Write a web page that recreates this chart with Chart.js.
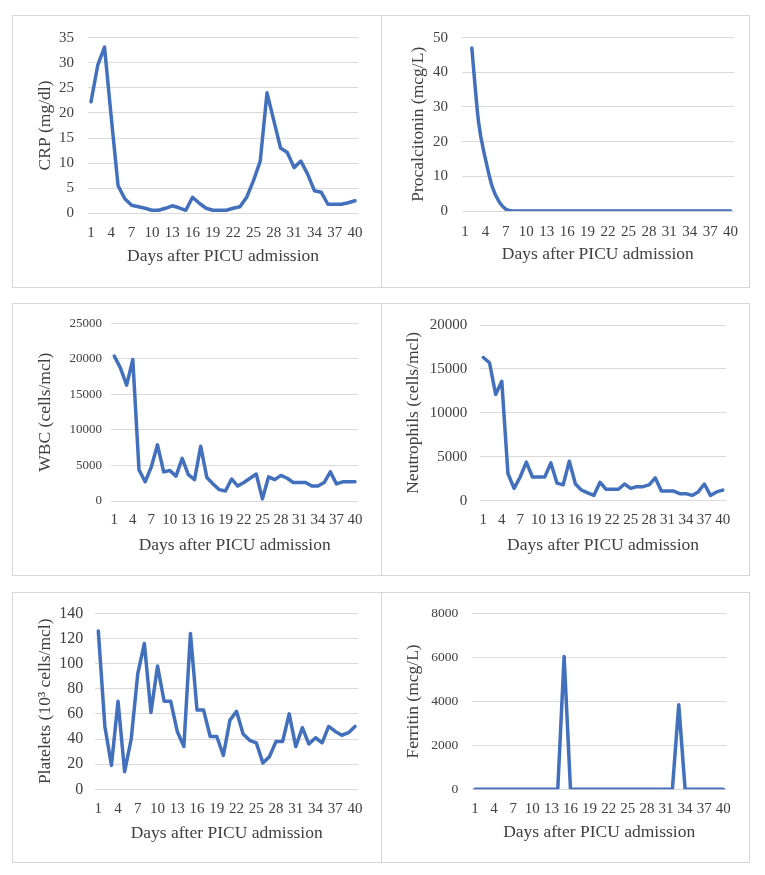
<!DOCTYPE html>
<html>
<head>
<meta charset="utf-8">
<script src="https://cdn.jsdelivr.net/npm/chart.js@4.4.1/dist/chart.umd.min.js"></script>
<style>
  html, body { margin: 0; padding: 0; background: #fff; }
  body { width: 765px; height: 875px; position: relative; overflow: hidden; }
  .frame { position: absolute; box-sizing: border-box; border: 1px solid #d6d6d6; }
  canvas { position: absolute; }
</style>
</head>
<body>
<script>
// days after PICU admission
const days = ["1","2","3","4","5","6","7","8","9","10","11","12","13","14","15","16","17","18","19","20",
  "21","22","23","24","25","26","27","28","29","30","31","32","33","34","35","36","37","38","39","40"];

const crp = [22.2, 29.5, 33.1, 19, 5.5, 2.9, 1.6, 1.3, 1.0, 0.6, 0.6, 1.0, 1.5, 1.1, 0.6, 3.2, 2.0, 1.0, 0.6, 0.6,
  0.6, 1.0, 1.3, 3.2, 6.5, 10.4, 24.0, 18.5, 13.0, 12.1, 9.1, 10.4, 7.8, 4.5, 4.2, 1.8, 1.8, 1.8, 2.1, 2.5];

// no value on day 1
const procalcitonin = [null, 47, 25.5, 15, 7, 2.7, 0.5, 0, 0, 0, 0, 0, 0, 0, 0, 0, 0, 0, 0, 0,
  0, 0, 0, 0, 0, 0, 0, 0, 0, 0, 0, 0, 0, 0, 0, 0, 0, 0, 0, 0];

const wbc = [20400, 18700, 16300, 19900, 4400, 2700, 4800, 7900, 4100, 4300, 3500, 6000, 3700, 3000, 7700, 3300, 2400, 1600, 1400, 3100,
  2100, 2600, 3200, 3800, 300, 3400, 3000, 3600, 3200, 2600, 2600, 2600, 2100, 2100, 2600, 4100, 2400, 2700, 2700, 2700];

const neutrophils = [16300, 15700, 12100, 13600, 3100, 1400, 2700, 4400, 2700, 2700, 2700, 4300, 2000, 1800, 4500, 1900, 1200, 900, 600, 2100,
  1300, 1300, 1300, 1900, 1400, 1600, 1600, 1800, 2600, 1100, 1100, 1100, 800, 800, 600, 1000, 1900, 600, 1000, 1200];

const platelets = [126, 50, 19, 70, 14, 40, 92, 116, 61, 98, 70, 70, 46, 34, 124, 63, 63, 42, 42, 27,
  55, 62, 44, 39, 37, 21, 26, 38, 38, 60, 34, 49, 36, 41, 37, 50, 46, 43, 45, 50];

const ferritin = [0, 0, 0, 0, 0, 0, 0, 0, 0, 0, 0, 0, 0, 0, 6050, 0, 0, 0, 0, 0,
  0, 0, 0, 0, 0, 0, 0, 0, 0, 0, 0, 0, 3850, 0, 0, 0, 0, 0, 0, 0];

// y axis ranges [max, step]
const crpAxis = [35, 5];
const procalcitoninAxis = [50, 10];
const wbcAxis = [25000, 5000];
const neutrophilsAxis = [20000, 5000];
const plateletsAxis = [140, 20];
const ferritinAxis = [8000, 2000];

const xTitle = "Days after PICU admission";

const LINE = "#4270bd";
const GRID = "#d9d9d9";
const TEXT = "#404040";
const FONT = '"Liberation Serif", "Times New Roman", serif';
const TICK_SIZE = 15;
const TITLE_SIZE = 17.5;

// panel frames and plot areas (page pixels)
const panels = [
  { values: crp, axis: crpAxis, title: "CRP (mg/dl)",
    x: 12, y: 15, w: 370, h: 273,
    plotLeft: 87.6, plotRight: 358.4, plotTop: 33.3, plotBottom: 213.3,
    yTickRight: 74, yTitleX: 45, xTickY: 233, xTitleY: 256 },
  { values: procalcitonin, axis: procalcitoninAxis, title: "Procalcitonin (mcg/L)", smooth: true,
    x: 381, y: 15, w: 369, h: 273,
    plotLeft: 461.6, plotRight: 735, plotTop: 22.3, plotBottom: 211,
    yTickRight: 448, yTitleX: 418, xTickY: 231.7, xTitleY: 254.5 },
  { values: wbc, axis: wbcAxis, title: "WBC (cells/mcl)", ySize: 13,
    x: 12, y: 303, w: 370, h: 273,
    plotLeft: 111.2, plotRight: 358.1, plotTop: 323.3, plotBottom: 501,
    yTickRight: 102, yTitleX: 45, xTickY: 520, xTitleY: 545 },
  { values: neutrophils, axis: neutrophilsAxis, title: "Neutrophils (cells/mcl)",
    x: 381, y: 303, w: 369, h: 273,
    plotLeft: 480.3, plotRight: 725.8, plotTop: 323.3, plotBottom: 500.7,
    yTickRight: 467.3, yTitleX: 413.3, xTickY: 520, xTitleY: 545.7 },
  { values: platelets, axis: plateletsAxis, title: "Platelets (10\u00b3 cells/mcl)", ySize: 16,
    x: 12, y: 592, w: 370, h: 271,
    plotLeft: 95, plotRight: 358.3, plotTop: 610.7, plotBottom: 789.3,
    yTickRight: 83.3, yTitleX: 45, xTickY: 809.3, xTitleY: 833.3 },
  { values: ferritin, axis: ferritinAxis, title: "Ferritin (mcg/L)", ySize: 13.5,
    x: 381, y: 592, w: 369, h: 271,
    plotLeft: 471.8, plotRight: 726.5, plotTop: 611.7, plotBottom: 789.3,
    yTickRight: 458.3, yTitleX: 413.3, xTickY: 809.3, xTitleY: 832.3 }
];

function makePanel(p) {
  const frame = document.createElement("div");
  frame.className = "frame";
  Object.assign(frame.style, { left: p.x + "px", top: p.y + "px", width: p.w + "px", height: p.h + "px" });
  document.body.appendChild(frame);

  const c = document.createElement("canvas");
  c.width = p.w; c.height = p.h;
  Object.assign(c.style, { left: p.x + "px", top: p.y + "px", width: p.w + "px", height: p.h + "px" });
  document.body.appendChild(c);

  const tickLH = TICK_SIZE * 1.2;
  const titleLH = TITLE_SIZE * 1.2;

  new Chart(c, {
    type: "line",
    data: {
      labels: days,
      datasets: [{
        data: p.values,
        borderColor: LINE,
        borderWidth: 3.5,
        pointRadius: 0,
        tension: p.smooth ? 0.4 : 0,
        cubicInterpolationMode: p.smooth ? "monotone" : "default",
        borderJoinStyle: "round",
        borderCapStyle: "round",
      }],
    },
    options: {
      responsive: false,
      animation: false,
      layout: {
        padding: { left: 0, top: p.plotTop - p.y, right: p.x + p.w - p.plotRight, bottom: 0 },
      },
      plugins: { legend: { display: false }, tooltip: { enabled: false } },
      scales: {
        x: {
          offset: true,
          grid: { display: false, drawTicks: false },
          border: { display: false },
          ticks: {
            autoSkip: false, maxRotation: 0, minRotation: 0,
            padding: p.xTickY - p.plotBottom - tickLH / 2,
            color: TEXT, font: { family: FONT, size: TICK_SIZE },
            callback: (v, i) => (i % 3 === 0 ? days[i] : ""),
          },
          title: {
            display: true, text: xTitle, color: TEXT,
            font: { family: FONT, size: TITLE_SIZE },
            padding: { top: 0, bottom: p.y + p.h - p.xTitleY - titleLH / 2 },
          },
          afterFit: (s) => { s.height = p.y + p.h - p.plotBottom; },
        },
        y: {
          min: 0, max: p.axis[0],
          grid: { color: GRID, lineWidth: 1, drawTicks: false },
          border: { display: false },
          ticks: {
            stepSize: p.axis[1],
            padding: p.plotLeft - p.yTickRight,
            color: TEXT, font: { family: FONT, size: p.ySize || TICK_SIZE },
            callback: (v) => String(v),
          },
          title: {
            display: true, text: p.title, color: TEXT,
            font: { family: FONT, size: TITLE_SIZE },
            padding: { top: p.yTitleX - p.x - titleLH / 2, bottom: 0 },
          },
          afterFit: (s) => { s.width = p.plotLeft - p.x; },
        },
      },
    },
  });
}

panels.forEach(makePanel);
</script>
</body>
</html>
